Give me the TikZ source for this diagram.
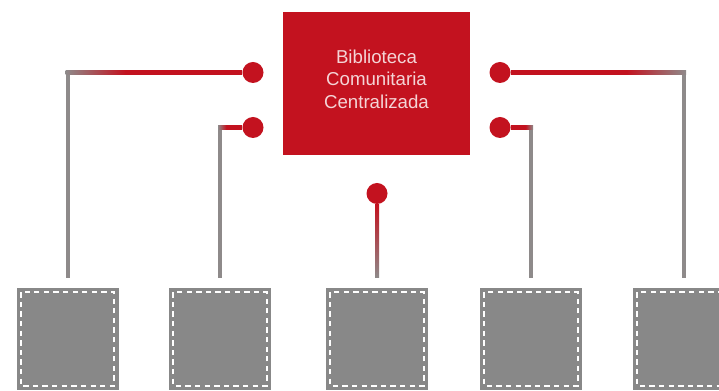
\documentclass[tikz,border=0pt]{standalone}
\usepackage{fontspec}
\setsansfont{Liberation Sans}
\usetikzlibrary{calc}
\definecolor{libred}{HTML}{C3121F}
\definecolor{boxgray}{HTML}{888888}
\definecolor{linegray}{HTML}{8E8A8A}
\definecolor{libtext}{HTML}{F4D4D6}
\pgfdeclarehorizontalshading{fadeleft}{100bp}{color(0bp)=(linegray); color(25bp)=(linegray); color(42bp)=(libred); color(100bp)=(libred)}
\pgfdeclarehorizontalshading{faderight}{100bp}{color(0bp)=(libred); color(58bp)=(libred); color(75bp)=(linegray); color(100bp)=(linegray)}
\tikzset{
  lib/.style={fill=libred, minimum width=140.25pt, minimum height=107.25pt, inner sep=0pt},
  libname/.style={text=libtext, font=\sffamily\fontsize{14}{17}\selectfont, align=center},
  pin/.style={circle, fill=libred, minimum size=15.75pt, inner sep=0pt},
  branch/.style={fill=boxgray, minimum size=76.5pt, inner sep=0pt,
    path picture={\draw[white, line width=1.5pt, dash pattern=on 4pt off 3.2pt]
      ([shift={(3.2pt,-3.2pt)}]path picture bounding box.north west) rectangle
      ([shift={(-3.2pt,3.2pt)}]path picture bounding box.south east);}},
  link/.style={draw=linegray, line width=3pt, shorten >=7.5pt}
}
\begin{document}
\begin{tikzpicture}[x=0.75pt,y=-0.75pt]
  \useasboundingbox (0,0) rectangle (719,391);
  \node[lib] (lib) at (376.5,83.5) {};
  \node[libname] (libname) at (376.5,79) {Biblioteca\\Comunitaria\\Centralizada};
  \node[pin] (pinA) at (253,72.5) {};
  \node[pin] (pinB) at (253,127.5) {};
  \node[pin] (pinC) at (377,193.5) {};
  \node[pin] (pinD) at (500,127.5) {};
  \node[pin] (pinE) at (500,72.5) {};
  \node[branch] (boxA) at (67.5,339) {};
  \node[branch] (boxB) at (220,339) {};
  \node[branch] (boxC) at (377,339) {};
  \node[branch] (boxD) at (531,339) {};
  \node[branch] (boxE) at (684,339) {};
  \draw[link] (pinA) -| (boxA);
  \draw[link] (pinB) -| (boxB);
  \draw[link] (pinC) -- (boxC);
  \draw[link] (pinD) -| (boxD);
  \draw[link] (pinE) -| (boxE);
  \shade[shading=fadeleft] ($(pinA -| boxA)+(-1.5pt,-1.5pt)$) rectangle ($(pinA.west)+(0,1.5pt)$);
  \shade[shading=fadeleft] ($(pinB -| boxB)+(-1.5pt,-1.5pt)$) rectangle ($(pinB.west)+(0,1.5pt)$);
  \shade[shading=faderight] ($(pinD.east)+(0,-1.5pt)$) rectangle ($(pinD -| boxD)+(1.5pt,1.5pt)$);
  \shade[shading=faderight] ($(pinE.east)+(0,-1.5pt)$) rectangle ($(pinE -| boxE)+(1.5pt,1.5pt)$);
  \shade[top color=libred, bottom color=linegray] ($(pinC.south)+(-1.5pt,0)$) rectangle ($(boxC.north)+(1.5pt,7.5pt)$);
\end{tikzpicture}
\end{document}
